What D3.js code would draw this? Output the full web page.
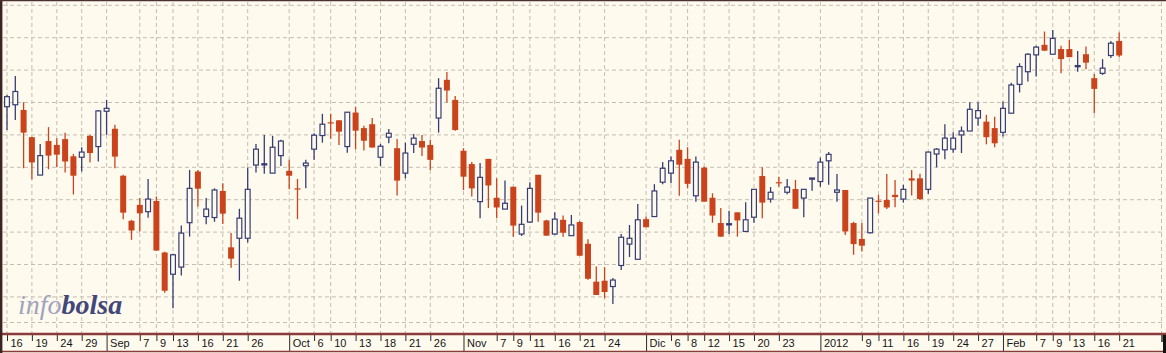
<!DOCTYPE html>
<html>
<head>
<meta charset="utf-8">
<script src="https://cdn.jsdelivr.net/npm/d3@7"></script>
<style>
	body { margin: 0; background: #fffaee; }
	svg { display: block; }
</style>
</head>
<body>
<svg id="chart" width="1166" height="353"></svg>
<script>

// daily quotes, one value per trading day from 16 Aug 2011
let opens = [
	8587, 8593, 8577, 8493, 8376, 8481, 8469, 8487, 8434, 8431,
	8497, 8464, 8573, 8519, 8374, 8235, 8284, 8263, 8296, 8137,
	8070, 8092, 8229, 8387, 8248, 8245, 8327, 8153, 8181, 8181,
	8407, 8409, 8382, 8436, 8389, 8335, 8405, 8456, 8498, 8539,
	8545, 8464, 8569, 8521, 8533, 8431, 8493, 8459, 8382, 8471,
	8481, 8469, 8552, 8670, 8608, 8451, 8410, 8294, 8426, 8306,
	8271, 8340, 8194, 8231, 8377, 8236, 8194, 8238, 8189, 8231,
	8164, 8047, 8050, 8032, 8097, 8163, 8116, 8240, 8248, 8354,
	8382, 8454, 8426, 8312, 8399, 8306, 8228, 8225, 8261, 8202,
	8246, 8373, 8302, 8354, 8323, 8333, 8305, 8366, 8356, 8420,
	8323, 8330, 8228, 8179, 8198, 8297, 8299, 8315, 8302, 8366,
	8366, 8332, 8441, 8454, 8456, 8500, 8512, 8552, 8541, 8521,
	8508, 8567, 8656, 8695, 8747, 8778, 8749, 8765, 8765, 8713,
	8749, 8675, 8690, 8745, 8790
];
let highs = [
	8623, 8682, 8601, 8494, 8472, 8524, 8490, 8507, 8441, 8462,
	8500, 8577, 8608, 8531, 8377, 8238, 8305, 8364, 8310, 8139,
	8133, 8220, 8392, 8392, 8305, 8335, 8351, 8197, 8272, 8399,
	8472, 8500, 8497, 8485, 8423, 8364, 8423, 8505, 8565, 8565,
	8546, 8571, 8587, 8528, 8552, 8472, 8518, 8487, 8476, 8503,
	8500, 8485, 8675, 8694, 8620, 8459, 8416, 8413, 8426, 8366,
	8359, 8340, 8282, 8354, 8377, 8238, 8261, 8251, 8253, 8234,
	8178, 8094, 8092, 8058, 8194, 8222, 8287, 8248, 8348, 8416,
	8433, 8485, 8462, 8433, 8402, 8320, 8274, 8266, 8261, 8292,
	8332, 8400, 8339, 8371, 8364, 8361, 8333, 8367, 8430, 8447,
	8379, 8330, 8232, 8228, 8305, 8315, 8379, 8361, 8346, 8392,
	8380, 8448, 8459, 8533, 8508, 8526, 8601, 8601, 8562, 8556,
	8603, 8661, 8721, 8752, 8775, 8819, 8824, 8775, 8793, 8759,
	8773, 8688, 8734, 8790, 8816
];
let lows = [
	8515, 8546, 8397, 8363, 8376, 8394, 8400, 8384, 8316, 8387,
	8415, 8418, 8500, 8397, 8240, 8176, 8202, 8244, 8142, 8013,
	7965, 8066, 8186, 8279, 8224, 8232, 8225, 8090, 8050, 8168,
	8384, 8380, 8382, 8404, 8332, 8240, 8335, 8423, 8476, 8488,
	8469, 8445, 8456, 8452, 8461, 8404, 8474, 8313, 8366, 8444,
	8435, 8392, 8507, 8600, 8513, 8330, 8310, 8243, 8274, 8243,
	8271, 8186, 8188, 8228, 8232, 8189, 8191, 8186, 8189, 8127,
	8053, 8006, 7996, 7978, 8083, 8123, 8116, 8215, 8247, 8348,
	8351, 8312, 8335, 8294, 8294, 8229, 8186, 8194, 8186, 8201,
	8229, 8243, 8291, 8340, 8317, 8272, 8246, 8328, 8340, 8346,
	8294, 8191, 8130, 8140, 8196, 8258, 8271, 8277, 8291, 8313,
	8299, 8318, 8400, 8425, 8445, 8444, 8512, 8528, 8471, 8462,
	8495, 8567, 8631, 8665, 8680, 8759, 8749, 8690, 8740, 8695,
	8703, 8567, 8685, 8737, 8740
];
let closes = [
	8618, 8634, 8507, 8415, 8436, 8436, 8439, 8418, 8374, 8447,
	8444, 8574, 8582, 8433, 8260, 8205, 8258, 8302, 8143, 8019,
	8130, 8197, 8335, 8334, 8271, 8330, 8257, 8118, 8243, 8332,
	8456, 8411, 8462, 8481, 8374, 8334, 8413, 8499, 8533, 8538,
	8510, 8570, 8513, 8482, 8461, 8465, 8505, 8359, 8444, 8490,
	8461, 8423, 8644, 8637, 8515, 8371, 8335, 8369, 8344, 8276,
	8289, 8220, 8224, 8335, 8260, 8189, 8240, 8198, 8222, 8127,
	8056, 8006, 8015, 8052, 8184, 8181, 8238, 8215, 8327, 8397,
	8420, 8408, 8349, 8416, 8294, 8251, 8186, 8226, 8236, 8238,
	8332, 8291, 8323, 8352, 8339, 8272, 8332, 8367, 8416, 8440,
	8330, 8202, 8163, 8158, 8305, 8296, 8276, 8308, 8332, 8359,
	8302, 8447, 8456, 8490, 8490, 8512, 8579, 8575, 8493, 8474,
	8582, 8654, 8711, 8749, 8771, 8760, 8798, 8734, 8740, 8714,
	8723, 8642, 8706, 8783, 8745
];

let firstDay = '2011-08-16';
let holidays = ['2011-12-26'];

// [date, label, month start]
let tickLabels = [
	['2011-08-16', '16', false], ['2011-08-19', '19', false], ['2011-08-24', '24', false],
	['2011-08-29', '29', false], ['2011-09-01', 'Sep', true], ['2011-09-07', '7', false],
	['2011-09-09', '9', false], ['2011-09-13', '13', false], ['2011-09-16', '16', false],
	['2011-09-21', '21', false], ['2011-09-26', '26', false], ['2011-10-03', 'Oct', true],
	['2011-10-06', '6', false], ['2011-10-10', '10', false], ['2011-10-13', '13', false],
	['2011-10-18', '18', false], ['2011-10-21', '21', false], ['2011-10-26', '26', false],
	['2011-11-01', 'Nov', true], ['2011-11-07', '7', false], ['2011-11-09', '9', false],
	['2011-11-11', '11', false], ['2011-11-16', '16', false], ['2011-11-21', '21', false],
	['2011-11-24', '24', false], ['2011-12-01', 'Dic', true], ['2011-12-06', '6', false],
	['2011-12-08', '8', false], ['2011-12-12', '12', false], ['2011-12-15', '15', false],
	['2011-12-20', '20', false], ['2011-12-23', '23', false], ['2012-01-02', '2012', true],
	['2012-01-09', '9', false], ['2012-01-11', '11', false], ['2012-01-16', '16', false],
	['2012-01-19', '19', false], ['2012-01-24', '24', false], ['2012-01-27', '27', false],
	['2012-02-01', 'Feb', true], ['2012-02-07', '7', false], ['2012-02-09', '9', false],
	['2012-02-13', '13', false], ['2012-02-16', '16', false], ['2012-02-21', '21', false]
];

let priceGrid = d3.range(8000, 8901, 100);

let colUp = '#363d74';
let colDown = '#c9441d';
let colGrid = '#c4beb1';
let colBg = '#fffaee';
let colAxis = '#8a3b3b';

let svgObj = d3.select('#chart');

// trading calendar (weekdays minus market holidays)
let fmt = d3.timeFormat('%Y-%m-%d');
let parse = d3.timeParse('%Y-%m-%d');
let days = [];
let d = parse(firstDay);
while (days.length < opens.length + 10) {
	let wd = d.getDay();
	if (wd !== 0 && wd !== 6 && holidays.indexOf(fmt(d)) < 0) days.push(fmt(d));
	d = d3.timeDay.offset(d, 1);
}
let dayIndex = {};
days.forEach((s, i) => dayIndex[s] = i);

let x = d3.scaleLinear().domain([0, 139.16]).range([7, 1162]);
let y = d3.scaleLinear().domain([8000, 8900]).range([296.9, 5.3]);

let quotes = opens.map((o, i) => ({
	i: i, o: o, h: highs[i], l: lows[i], c: closes[i]
}));

drawFrame();
drawGrids();
drawLogo();
drawCandles();
drawAxis();

function drawFrame() {
	svgObj.append('rect')
		.attr('x', 0).attr('y', 0)
		.attr('width', 1166).attr('height', 353)
		.attr('fill', colBg);
}

function drawGrids() {
	let g = svgObj.append('g');

	// horizontal price lines
	g.selectAll('line.h').data(priceGrid).enter()
		.append('line')
		.attr('x1', 3).attr('x2', 1162)
		.attr('y1', v => y(v)).attr('y2', v => y(v))
		.attr('stroke', colGrid)
		.attr('stroke-width', 1)
		.attr('stroke-dasharray', '4,3');
	g.append('line')
		.attr('x1', 3).attr('x2', 1162)
		.attr('y1', 322.5).attr('y2', 322.5)
		.attr('stroke', colGrid)
		.attr('stroke-dasharray', '4,3');

	// vertical date lines
	let xs = tickLabels.map(t => x(dayIndex[t[0]]));
	xs.push(1161.5);
	g.selectAll('line.v').data(xs).enter()
		.append('line')
		.attr('x1', v => v).attr('x2', v => v)
		.attr('y1', 2).attr('y2', 333)
		.attr('stroke', colGrid)
		.attr('stroke-width', 1)
		.attr('stroke-dasharray', '4,3');
}

function drawLogo() {
	let t = svgObj.append('text')
		.attr('x', 18).attr('y', 314)
		.attr('font-family', '"Liberation Serif", "DejaVu Serif", serif')
		.attr('font-style', 'italic')
		.attr('font-size', 28);
	t.append('tspan').attr('fill', '#a0a3bd').text('info');
	t.append('tspan').attr('fill', '#414879').attr('font-weight', 'bold').text('bolsa');
}

function drawCandles() {
	let g = svgObj.append('g');
	let bw = 6;
	let c = g.selectAll('g.candle').data(quotes).enter().append('g');

	c.append('line')
		.attr('x1', q => x(q.i)).attr('x2', q => x(q.i))
		.attr('y1', q => y(q.h)).attr('y2', q => y(q.l))
		.attr('stroke', q => q.c >= q.o ? colUp : colDown)
		.attr('stroke-width', 1.3);

	c.append('rect')
		.attr('x', q => x(q.i) - bw / 2 + (q.c >= q.o ? 0.6 : 0))
		.attr('width', q => q.c >= q.o ? bw - 1.2 : bw)
		.attr('y', q => y(Math.max(q.o, q.c)))
		.attr('height', q => Math.max(1.2, Math.abs(y(q.o) - y(q.c))))
		.attr('fill', q => q.c >= q.o ? colBg : colDown)
		.attr('stroke', q => q.c >= q.o ? colUp : 'none')
		.attr('stroke-width', 1.2);
}

function drawAxis() {
	let g = svgObj.append('g');

	let axis = d3.axisBottom(x)
		.tickValues(tickLabels.map(t => dayIndex[t[0]]))
		.tickFormat((v, i) => tickLabels[i][1])
		.tickSize(6)
		.tickPadding(0);

	let ax = g.append('g')
		.attr('transform', 'translate(0,335)')
		.call(axis);
	ax.select('.domain').remove();
	ax.selectAll('.tick line')
		.attr('stroke', '#2a2a2a')
		.attr('y2', (v, i) => tickLabels[i][2] ? 16 : 6);
	ax.selectAll('.tick text')
		.attr('text-anchor', 'start')
		.attr('x', 3)
		.attr('y', 12)
		.attr('dy', 0)
		.attr('fill', '#151515')
		.attr('font-family', '"Liberation Sans", Arial, sans-serif')
		.attr('font-size', 11);

	// end tick
	g.append('line')
		.attr('x1', 1162).attr('x2', 1162)
		.attr('y1', 335).attr('y2', 342)
		.attr('stroke', '#2a2a2a').attr('stroke-width', 1.5);

	// axis band lines
	g.append('line')
		.attr('x1', 0).attr('x2', 1166)
		.attr('y1', 334).attr('y2', 334)
		.attr('stroke', colAxis).attr('stroke-width', 2.6);
	g.append('line')
		.attr('x1', 0).attr('x2', 1166)
		.attr('y1', 351.5).attr('y2', 351.5)
		.attr('stroke', colAxis).attr('stroke-width', 1.5);

	// borders
	g.append('line')
		.attr('x1', 1.2).attr('x2', 1.2)
		.attr('y1', 0).attr('y2', 353)
		.attr('stroke', '#3b2424').attr('stroke-width', 2.4);
	g.append('line')
		.attr('x1', 0).attr('x2', 1166)
		.attr('y1', 0.6).attr('y2', 0.6)
		.attr('stroke', '#4a3030').attr('stroke-width', 1.2);
	g.append('rect')
		.attr('x', 1163).attr('y', 335)
		.attr('width', 3).attr('height', 18)
		.attr('fill', '#111');
}

</script>
</body>
</html>
